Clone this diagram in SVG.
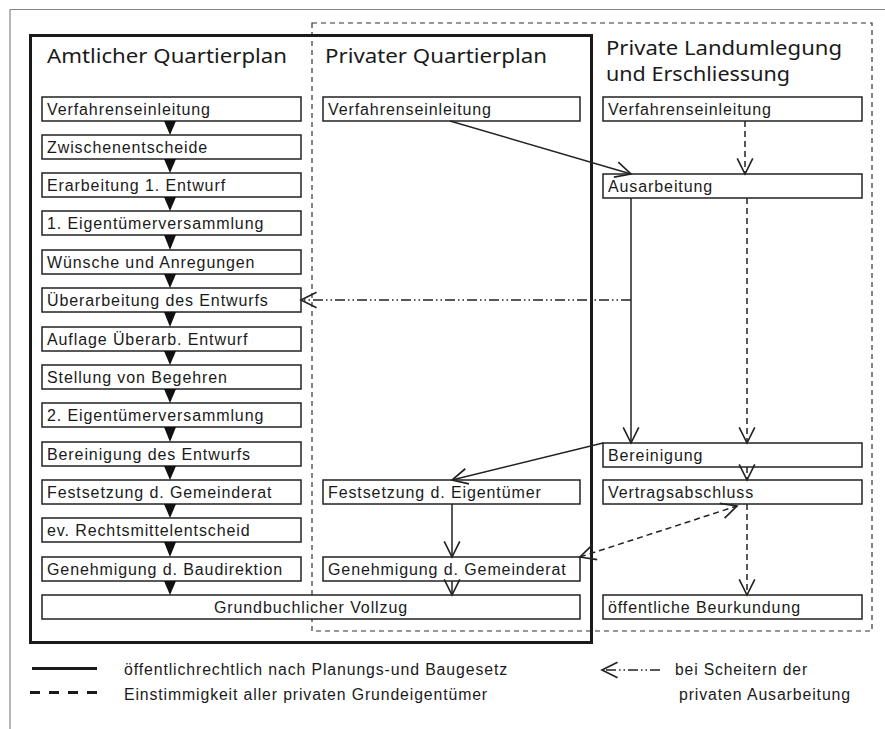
<svg xmlns="http://www.w3.org/2000/svg" width="885" height="729" viewBox="0 0 885 729">
<style>
.bx{fill:#fff;stroke:#222;stroke-width:1.5}
.t{font-family:"Liberation Sans",Arial,sans-serif;font-size:16px;letter-spacing:0.9px;fill:#1a1a1a}
.h{font-family:"Noto Sans","Open Sans",sans-serif;font-size:20px;fill:#1a1a1a}
.tri{fill:#111}
.sol{fill:none;stroke:#222;stroke-width:1.5}
.das{fill:none;stroke:#222;stroke-width:1.5;stroke-dasharray:6 4}
.dd{fill:none;stroke:#222;stroke-width:1.3;stroke-dasharray:10 3 1.5 3 1.5 3}
</style>
<defs>
<marker id="ah" markerUnits="userSpaceOnUse" markerWidth="20" markerHeight="20" viewBox="-16 -9 18 18" refX="0" refY="0" orient="auto">
<path d="M-14,-7 L0,0 L-14,7" fill="none" stroke="#222" stroke-width="1.5"/>
</marker>
<marker id="ahs" markerUnits="userSpaceOnUse" markerWidth="20" markerHeight="20" viewBox="-16 -9 18 18" refX="0" refY="0" orient="auto-start-reverse">
<path d="M-14,-7 L0,0 L-14,7" fill="none" stroke="#222" stroke-width="1.5"/>
</marker>
</defs>
<rect width="885" height="729" fill="#fff"/>
<g id="frame">
<path d="M10,729 V9.5 H885" fill="none" stroke="#888" stroke-width="1.2"/>
</g>
<g id="groups">
<rect x="312" y="23" width="560" height="608" fill="none" stroke="#333" stroke-width="1.2" stroke-dasharray="5 4"/>
<rect x="30.5" y="35.5" width="561" height="607" fill="none" stroke="#1a1a1a" stroke-width="3"/>
<text class="h" x="47" y="63" textLength="240" lengthAdjust="spacingAndGlyphs">Amtlicher Quartierplan</text>
<text class="h" x="325" y="63" textLength="222" lengthAdjust="spacingAndGlyphs">Privater Quartierplan</text>
<text class="h" x="606" y="55" textLength="236" lengthAdjust="spacingAndGlyphs">Private Landumlegung</text>
<text class="h" x="606" y="81" textLength="184" lengthAdjust="spacingAndGlyphs">und Erschliessung</text>
</g>
<g id="amtlich">
<g id="a1"><rect class="bx" x="42" y="97" width="259" height="24"/><text class="t" x="47" y="115">Verfahrenseinleitung</text></g>
<g id="a2"><rect class="bx" x="42" y="135" width="259" height="24"/><text class="t" x="47" y="153">Zwischenentscheide</text></g>
<g id="a3"><rect class="bx" x="42" y="173" width="259" height="24"/><text class="t" x="47" y="191">Erarbeitung 1. Entwurf</text></g>
<g id="a4"><rect class="bx" x="42" y="211" width="259" height="24"/><text class="t" x="47" y="229">1. Eigentümerversammlung</text></g>
<g id="a5"><rect class="bx" x="42" y="250" width="259" height="24"/><text class="t" x="47" y="268">Wünsche und Anregungen</text></g>
<g id="a6"><rect class="bx" x="42" y="288" width="259" height="24"/><text class="t" x="47" y="306">Überarbeitung des Entwurfs</text></g>
<g id="a7"><rect class="bx" x="42" y="327" width="259" height="24"/><text class="t" x="47" y="345">Auflage Überarb. Entwurf</text></g>
<g id="a8"><rect class="bx" x="42" y="365" width="259" height="24"/><text class="t" x="47" y="383">Stellung von Begehren</text></g>
<g id="a9"><rect class="bx" x="42" y="403" width="259" height="24"/><text class="t" x="47" y="421">2. Eigentümerversammlung</text></g>
<g id="a10"><rect class="bx" x="42" y="442" width="259" height="24"/><text class="t" x="47" y="460">Bereinigung des Entwurfs</text></g>
<g id="a11"><rect class="bx" x="42" y="480" width="259" height="24"/><text class="t" x="47" y="498">Festsetzung d. Gemeinderat</text></g>
<g id="a12"><rect class="bx" x="42" y="518" width="259" height="24"/><text class="t" x="47" y="536">ev. Rechtsmittelentscheid</text></g>
<g id="a13"><rect class="bx" x="42" y="557" width="259" height="24"/><text class="t" x="47" y="575">Genehmigung d. Baudirektion</text></g>
<g id="grundbuch"><rect class="bx" x="42" y="595" width="538" height="24"/><text class="t" x="311" y="613" text-anchor="middle">Grundbuchlicher Vollzug</text></g>
</g>
<g id="privat">
<g id="p1"><rect class="bx" x="323" y="97" width="257" height="24"/><text class="t" x="328" y="115">Verfahrenseinleitung</text></g>
<g id="p2"><rect class="bx" x="323" y="480" width="257" height="24"/><text class="t" x="328" y="498">Festsetzung d. Eigentümer</text></g>
<g id="p3"><rect class="bx" x="323" y="557" width="257" height="24"/><text class="t" x="328" y="575">Genehmigung d. Gemeinderat</text></g>
</g>
<g id="landumlegung">
<g id="l1"><rect class="bx" x="603" y="97" width="259" height="24"/><text class="t" x="608" y="115">Verfahrenseinleitung</text></g>
<g id="l2"><rect class="bx" x="603" y="174" width="259" height="24"/><text class="t" x="608" y="192">Ausarbeitung</text></g>
<g id="l3"><rect class="bx" x="603" y="443" width="259" height="24"/><text class="t" x="608" y="461">Bereinigung</text></g>
<g id="l4"><rect class="bx" x="603" y="480" width="259" height="24"/><text class="t" x="608" y="498">Vertragsabschluss</text></g>
<g id="l5"><rect class="bx" x="603" y="595" width="259" height="24"/><text class="t" x="608" y="613">öffentliche Beurkundung</text></g>
</g>
<g id="connectors">
<path class="tri" d="M164,121 H176 L170,135 Z"/>
<path class="tri" d="M164,159 H176 L170,173 Z"/>
<path class="tri" d="M164,197 H176 L170,211 Z"/>
<path class="tri" d="M164,235 H176 L170,250 Z"/>
<path class="tri" d="M164,274 H176 L170,288 Z"/>
<path class="tri" d="M164,312 H176 L170,327 Z"/>
<path class="tri" d="M164,351 H176 L170,365 Z"/>
<path class="tri" d="M164,389 H176 L170,403 Z"/>
<path class="tri" d="M164,427 H176 L170,442 Z"/>
<path class="tri" d="M164,466 H176 L170,480 Z"/>
<path class="tri" d="M164,504 H176 L170,518 Z"/>
<path class="tri" d="M164,542 H176 L170,557 Z"/>
<path class="tri" d="M164,581 H176 L170,595 Z"/>
<path class="sol" d="M450,121 L631,174" marker-end="url(#ah)"/>
<path class="das" d="M745,121 V174" marker-end="url(#ah)"/>
<path class="sol" d="M631,198 V443" marker-end="url(#ah)"/>
<path class="das" d="M747,198 V443" marker-end="url(#ah)"/>
<path class="dd" d="M631,300 H301" marker-end="url(#ah)"/>
<path class="sol" d="M603,443 L452,480" marker-end="url(#ah)"/>
<path class="das" d="M747,467 V480" marker-end="url(#ah)"/>
<path class="sol" d="M452,504 V557" marker-end="url(#ah)"/>
<path class="sol" d="M452,581 V595" marker-end="url(#ah)"/>
<path class="das" d="M580,557 L737,506" marker-start="url(#ahs)" marker-end="url(#ah)"/>
<path class="das" d="M747,504 V595" marker-end="url(#ah)"/>
</g>
<g id="legend">
<path d="M32,668.5 H97" stroke="#1a1a1a" stroke-width="3"/>
<path d="M30,692.5 H97" stroke="#1a1a1a" stroke-width="3" stroke-dasharray="10 9"/>
<text class="t" x="124" y="675" textLength="384" lengthAdjust="spacingAndGlyphs">öffentlichrechtlich nach Planungs-und Baugesetz</text>
<text class="t" x="124" y="700" textLength="364" lengthAdjust="spacingAndGlyphs">Einstimmigkeit aller privaten Grundeigentümer</text>
<path class="dd" d="M660,670 H602" marker-end="url(#ah)"/>
<text class="t" x="675" y="675" textLength="133" lengthAdjust="spacingAndGlyphs">bei Scheitern der</text>
<text class="t" x="679" y="700" textLength="172" lengthAdjust="spacingAndGlyphs">privaten Ausarbeitung</text>
</g>
</svg>
